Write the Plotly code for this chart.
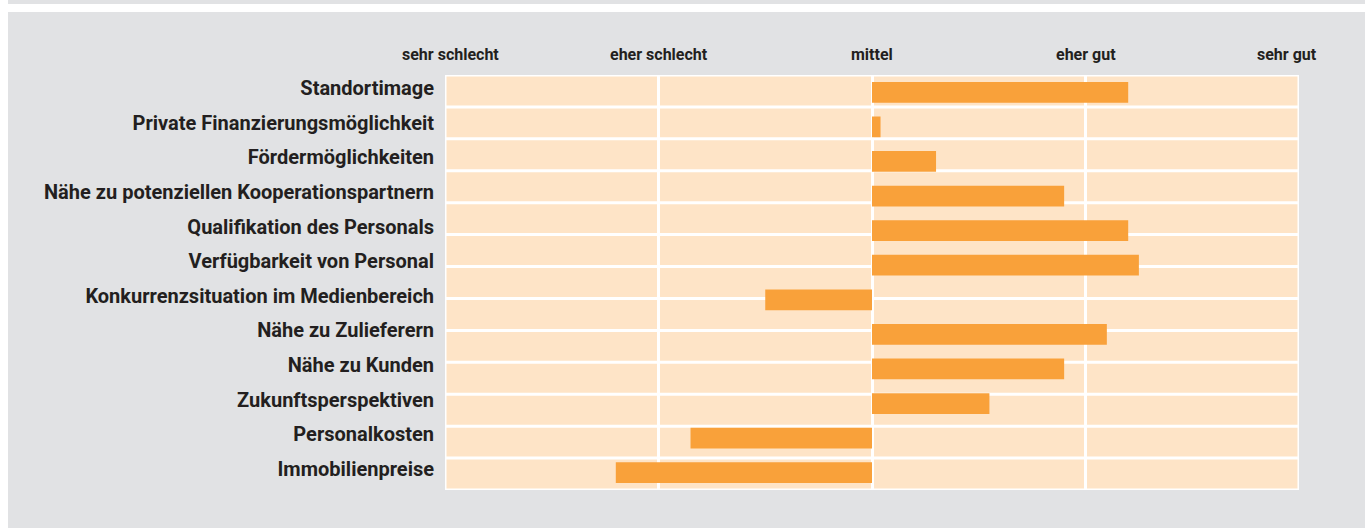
import plotly.graph_objects as go

# ---- data ----
categories = [
    "Standortimage",
    "Private Finanzierungsmöglichkeit",
    "Fördermöglichkeiten",
    "Nähe zu potenziellen Kooperationspartnern",
    "Qualifikation des Personals",
    "Verfügbarkeit von Personal",
    "Konkurrenzsituation im Medienbereich",
    "Nähe zu Zulieferern",
    "Nähe zu Kunden",
    "Zukunftsperspektiven",
    "Personalkosten",
    "Immobilienpreise",
]
values = [1.20, 0.04, 0.30, 0.90, 1.20, 1.25, -0.50, 1.10, 0.90, 0.55, -0.85, -1.20]
scale_vals = [-2, -1, 0, 1, 2]
scale_labels = ["sehr schlecht", "eher schlecht", "mittel", "eher gut", "sehr gut"]
n_bg_rows = 13

# ---- styling ----
W, H = 1365, 528
L, R, T, B = 445, 66, 75, 38
BAR = "#f9a13a"
PEACH = "#fee4c7"
GRAY = "#e1e2e4"
TXT = "#231f20"
FONT = "Roboto, sans-serif"

pw, ph = W - L - R, H - T - B
def px_x(px):
    return (px - L) / pw
def px_y(py):
    return (H - B - py) / ph

fig = go.Figure()
fig.add_trace(go.Bar(
    y=categories, x=values, orientation="h", base=0,
    marker=dict(color=BAR, line=dict(width=0)), width=0.6,
    hoverinfo="x+y", showlegend=False,
))

n = len(categories)
shapes = []
# white page strips (outside the plot)
shapes.append(dict(type="rect", xref="paper", yref="paper",
                   x0=px_x(0), x1=px_x(8), y0=px_y(528), y1=px_y(0),
                   fillcolor="white", line=dict(width=0), layer="above"))
shapes.append(dict(type="rect", xref="paper", yref="paper",
                   x0=px_x(8), x1=px_x(1365), y0=px_y(12), y1=px_y(4),
                   fillcolor="white", line=dict(width=0), layer="above"))
# background row separators (13 decorative rows across the category range)
for k in range(1, n_bg_rows):
    yy = -0.5 + k * n / n_bg_rows
    shapes.append(dict(type="line", xref="x", yref="y",
                       x0=scale_vals[0], x1=scale_vals[-1], y0=yy, y1=yy,
                       line=dict(color="white", width=3), layer="between"))
# white frame
shapes.append(dict(type="rect", xref="x", yref="y",
                   x0=scale_vals[0], x1=scale_vals[-1], y0=-0.5, y1=n - 0.5,
                   line=dict(color="white", width=3), layer="above"))

annotations = []
shifts = [5, 0, 0, 0, -12]
for v, lab, s in zip(scale_vals, scale_labels, shifts):
    annotations.append(dict(x=v, xref="x", y=1, yref="paper", yanchor="bottom",
                            xanchor="center", text=lab, showarrow=False, xshift=s,
                            yshift=9,
                            font=dict(family=FONT, size=16, color=TXT, weight="bold")))

fig.update_layout(
    width=W, height=H,
    margin=dict(l=L, r=R, t=T, b=B, pad=0),
    paper_bgcolor=GRAY, plot_bgcolor=PEACH,
    shapes=shapes, annotations=annotations,
    xaxis=dict(range=[-2, 2], tickvals=scale_vals, showticklabels=False,
               showgrid=True, gridcolor="white", gridwidth=3,
               zeroline=False, showline=False, ticks="", fixedrange=True),
    yaxis=dict(type="category", categoryorder="array", categoryarray=categories,
               range=[n - 0.5, -0.5], showgrid=False, zeroline=False,
               showline=False, ticks="", ticklabelstandoff=10, ticklabelshift=4,
               tickfont=dict(family=FONT, size=20, color=TXT, weight="bold"),
               fixedrange=True),
)

fig.write_html("out.html")
